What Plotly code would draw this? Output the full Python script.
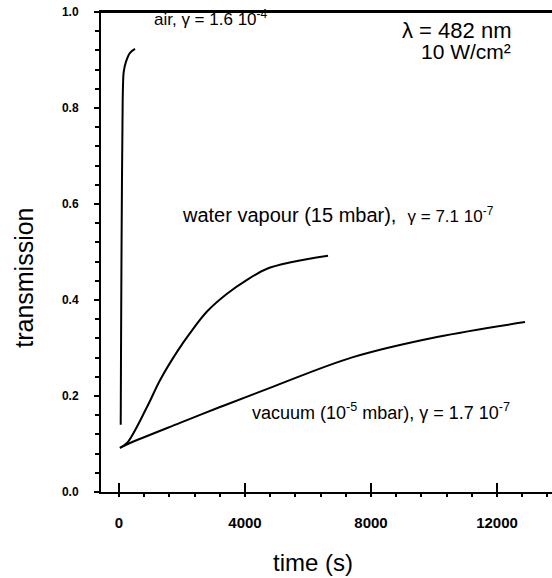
import plotly.graph_objects as go

# transmission vs time
air_t = [55, 65, 80, 95, 110, 125, 150, 220, 350, 510]
air_y = [0.14, 0.30, 0.50, 0.65, 0.76, 0.84, 0.875, 0.896, 0.915, 0.923]

water_t = [30, 254, 889, 1302, 1842, 2254, 2794, 3429, 4064, 4699, 5500, 6636]
water_y = [0.092, 0.102, 0.177, 0.233, 0.292, 0.331, 0.376, 0.413, 0.442, 0.465, 0.479, 0.492]

vac_t = [30, 350, 1937, 3207, 4794, 7430, 10097, 12890]
vac_y = [0.092, 0.102, 0.144, 0.177, 0.217, 0.281, 0.323, 0.354]

x_ticks = [0, 4000, 8000, 12000]
y_ticks = [0.0, 0.2, 0.4, 0.6, 0.8, 1.0]

font = "Liberation Sans, Arial, sans-serif"

fig = go.Figure()
for t, y in [(air_t, air_y), (water_t, water_y), (vac_t, vac_y)]:
    fig.add_trace(go.Scatter(x=t, y=y, mode="lines", line=dict(color="black", width=2, shape="spline", smoothing=1.0),
                             showlegend=False, hoverinfo="skip"))

# labels
fig.add_annotation(x=1048, y=0.988, text="air, γ = 1.6 10<sup>-4</sup>", xanchor="left",
                   font=dict(size=17))
fig.add_annotation(x=12510, y=0.962, text="λ = 482 nm", xanchor="right", font=dict(size=22))
fig.add_annotation(x=12510, y=0.918, text="10 W/cm²", xanchor="right", font=dict(size=21))
fig.add_annotation(x=1937, y=0.577, xanchor="left",
                   text="water vapour (15 mbar),  <span style='font-size:17px'>γ = 7.1 10<sup>-7</sup></span>",
                   font=dict(size=20))
fig.add_annotation(x=4160, y=0.167, xanchor="left",
                   text="vacuum (10<sup>-5</sup> mbar), γ = 1.7 10<sup>-7</sup>", font=dict(size=18))
# axis titles sit off-centre in the original, so place them as annotations
fig.add_annotation(xref="paper", yref="paper", x=0.47, y=-0.146, xanchor="center", yanchor="middle",
                   text="time (s)", font=dict(size=24))
fig.add_annotation(xref="paper", yref="paper", x=-0.171, y=0.446, xanchor="center", yanchor="middle",
                   text="transmission", textangle=-90, font=dict(size=25))
for a in fig.layout.annotations:
    a.showarrow = False
    a.font.family = font
    a.font.color = "black"

# top edge of the frame
fig.add_shape(type="line", xref="paper", yref="paper", x0=0, x1=1, y0=1, y1=1,
              line=dict(color="black", width=2), layer="above")

fig.update_layout(
    width=552, height=578,
    margin=dict(l=101, r=0, t=12, b=86, autoexpand=False),
    plot_bgcolor="white", paper_bgcolor="white",
    font=dict(family=font, color="black"),
    xaxis=dict(range=[-571, 13746], tickvals=x_ticks, ticktext=["0", "4000", "8000", "12000"],
               ticks="inside", ticklen=9, tickwidth=2, tickcolor="black",
               minor=dict(dtick=800, tick0=0, ticks="outside", ticklen=3, tickwidth=2, tickcolor="black"),
               showline=True, linewidth=2, linecolor="black", mirror=True, automargin=False,
               showgrid=False, zeroline=False, ticklabelstandoff=16,
               tickfont=dict(size=15, weight="bold")),
    yaxis=dict(range=[0, 1.0], tickvals=y_ticks, ticktext=["0.0", "0.2", "0.4", "0.6", "0.8", "1.0"],
               ticks="outside", ticklen=5, tickwidth=2, tickcolor="black",
               minor=dict(dtick=0.04, tick0=0, ticks="outside", ticklen=4, tickwidth=2, tickcolor="black"),
               showline=True, linewidth=2, linecolor="black", automargin=False,
               showgrid=False, zeroline=False, ticklabelstandoff=13,
               tickfont=dict(size=12, weight="bold")),
)

# drop the default 8px body margin so the figure sits at the window's corner
fig.write_html("out.html", config={"displayModeBar": False},
               post_script="document.body.style.margin='0';")
